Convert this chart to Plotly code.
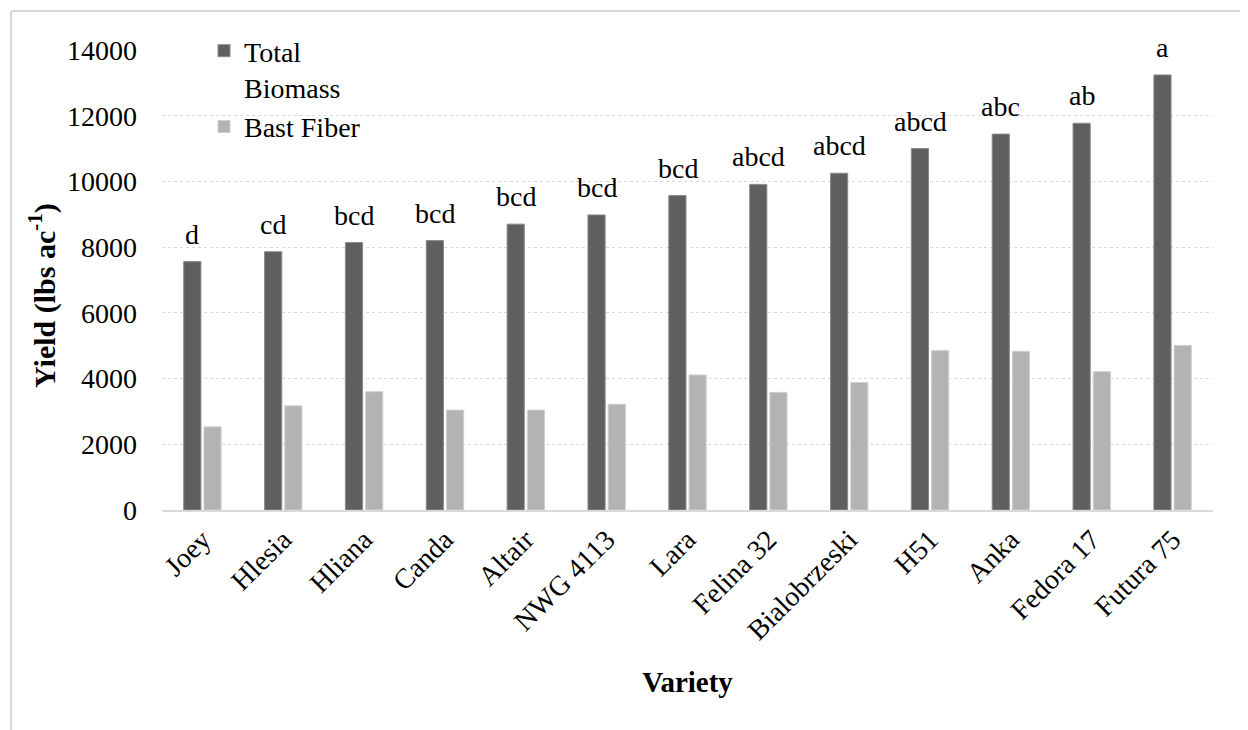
import plotly.graph_objects as go

varieties = ["Joey", "Hlesia", "Hliana", "Canda", "Altair", "NWG 4113", "Lara",
             "Felina 32", "Bialobrzeski", "H51", "Anka", "Fedora 17", "Futura 75"]
total_biomass = [7560, 7860, 8140, 8200, 8700, 8980, 9570, 9910, 10250, 11000, 11440, 11770, 13240]
bast_fiber = [2530, 3170, 3600, 3040, 3040, 3220, 4110, 3580, 3880, 4850, 4830, 4210, 5010]
letters = ["d", "cd", "bcd", "bcd", "bcd", "bcd", "bcd", "abcd", "abcd", "abcd", "abc", "ab", "a"]
y_ticks = [0, 2000, 4000, 6000, 8000, 10000, 12000, 14000]

FONT = "Liberation Serif"
OFF = 8  # page body margin
W, H = 1240, 722
ML, MR, MT, MB = 162 - OFF, 35, 50 - OFF, 220
PW = W - ML - MR
PH = H - MT - MB

def px_x(p):
    return (p - OFF - ML) / PW

def px_y(p):
    return (H - MB - (p - OFF)) / PH

fig = go.Figure()
fig.add_trace(go.Bar(
    x=varieties, y=total_biomass, name="Total<br>Biomass",
    marker=dict(color="#5f5f5f", line=dict(color="#8a8a8a", width=1)),
))
fig.add_trace(go.Bar(
    x=varieties, y=bast_fiber, name="Bast Fiber",
    marker=dict(color="#b3b3b3", line=dict(color="#d0d0d0", width=1)),
))

for v, t, l in zip(varieties, total_biomass, letters):
    fig.add_annotation(x=v, y=t, text=l, showarrow=False, xshift=-10, yshift=10,
                       yanchor="bottom", xanchor="center",
                       font=dict(family=FONT, size=28, color="black"))

# y-axis title placed as in the reference
fig.add_annotation(xref="paper", yref="paper", x=px_x(42), y=px_y(296),
                   text="<b>Yield (lbs ac<sup>-1</sup>)</b>", textangle=-90,
                   showarrow=False, xanchor="center", yanchor="middle",
                   font=dict(family=FONT, size=30, color="black"))

# outer border
fig.add_shape(type="line", xref="paper", yref="paper",
              x0=px_x(11), x1=px_x(1260), y0=px_y(11), y1=px_y(11),
              line=dict(color="#d9d9d9", width=2))
fig.add_shape(type="line", xref="paper", yref="paper",
              x0=px_x(11), x1=px_x(11), y0=px_y(11), y1=px_y(740),
              line=dict(color="#d9d9d9", width=2))

fig.update_layout(
    width=W, height=H,
    margin=dict(l=ML, r=MR, t=MT, b=MB),
    paper_bgcolor="white", plot_bgcolor="white",
    barmode="group", bargap=0.5, bargroupgap=0.15,
    font=dict(family=FONT, size=28, color="black"),
    showlegend=True,
    legend=dict(x=px_x(204), y=px_y(26), xanchor="left", yanchor="top",
                bgcolor="rgba(0,0,0,0)", font=dict(family=FONT, size=28),
                valign="top", tracegroupgap=0, itemwidth=30),
)
fig.update_xaxes(
    tickangle=-45, tickfont=dict(family=FONT, size=28),
    showgrid=False, showline=True, linecolor="#d9d9d9", linewidth=2,
    ticks="", automargin=False,
    title=dict(text="<b>Variety</b>", font=dict(family=FONT, size=29), standoff=27),
)
fig.update_yaxes(
    range=[0, 14000], tickvals=y_ticks, ticktext=[str(v) for v in y_ticks],
    tickfont=dict(family=FONT, size=28),
    showgrid=True, gridcolor="#d9d9d9", griddash="dot", gridwidth=1,
    zeroline=False, showline=False, ticks="", ticklabelstandoff=24,
    automargin=False,
)

fig.write_html("out.html")
